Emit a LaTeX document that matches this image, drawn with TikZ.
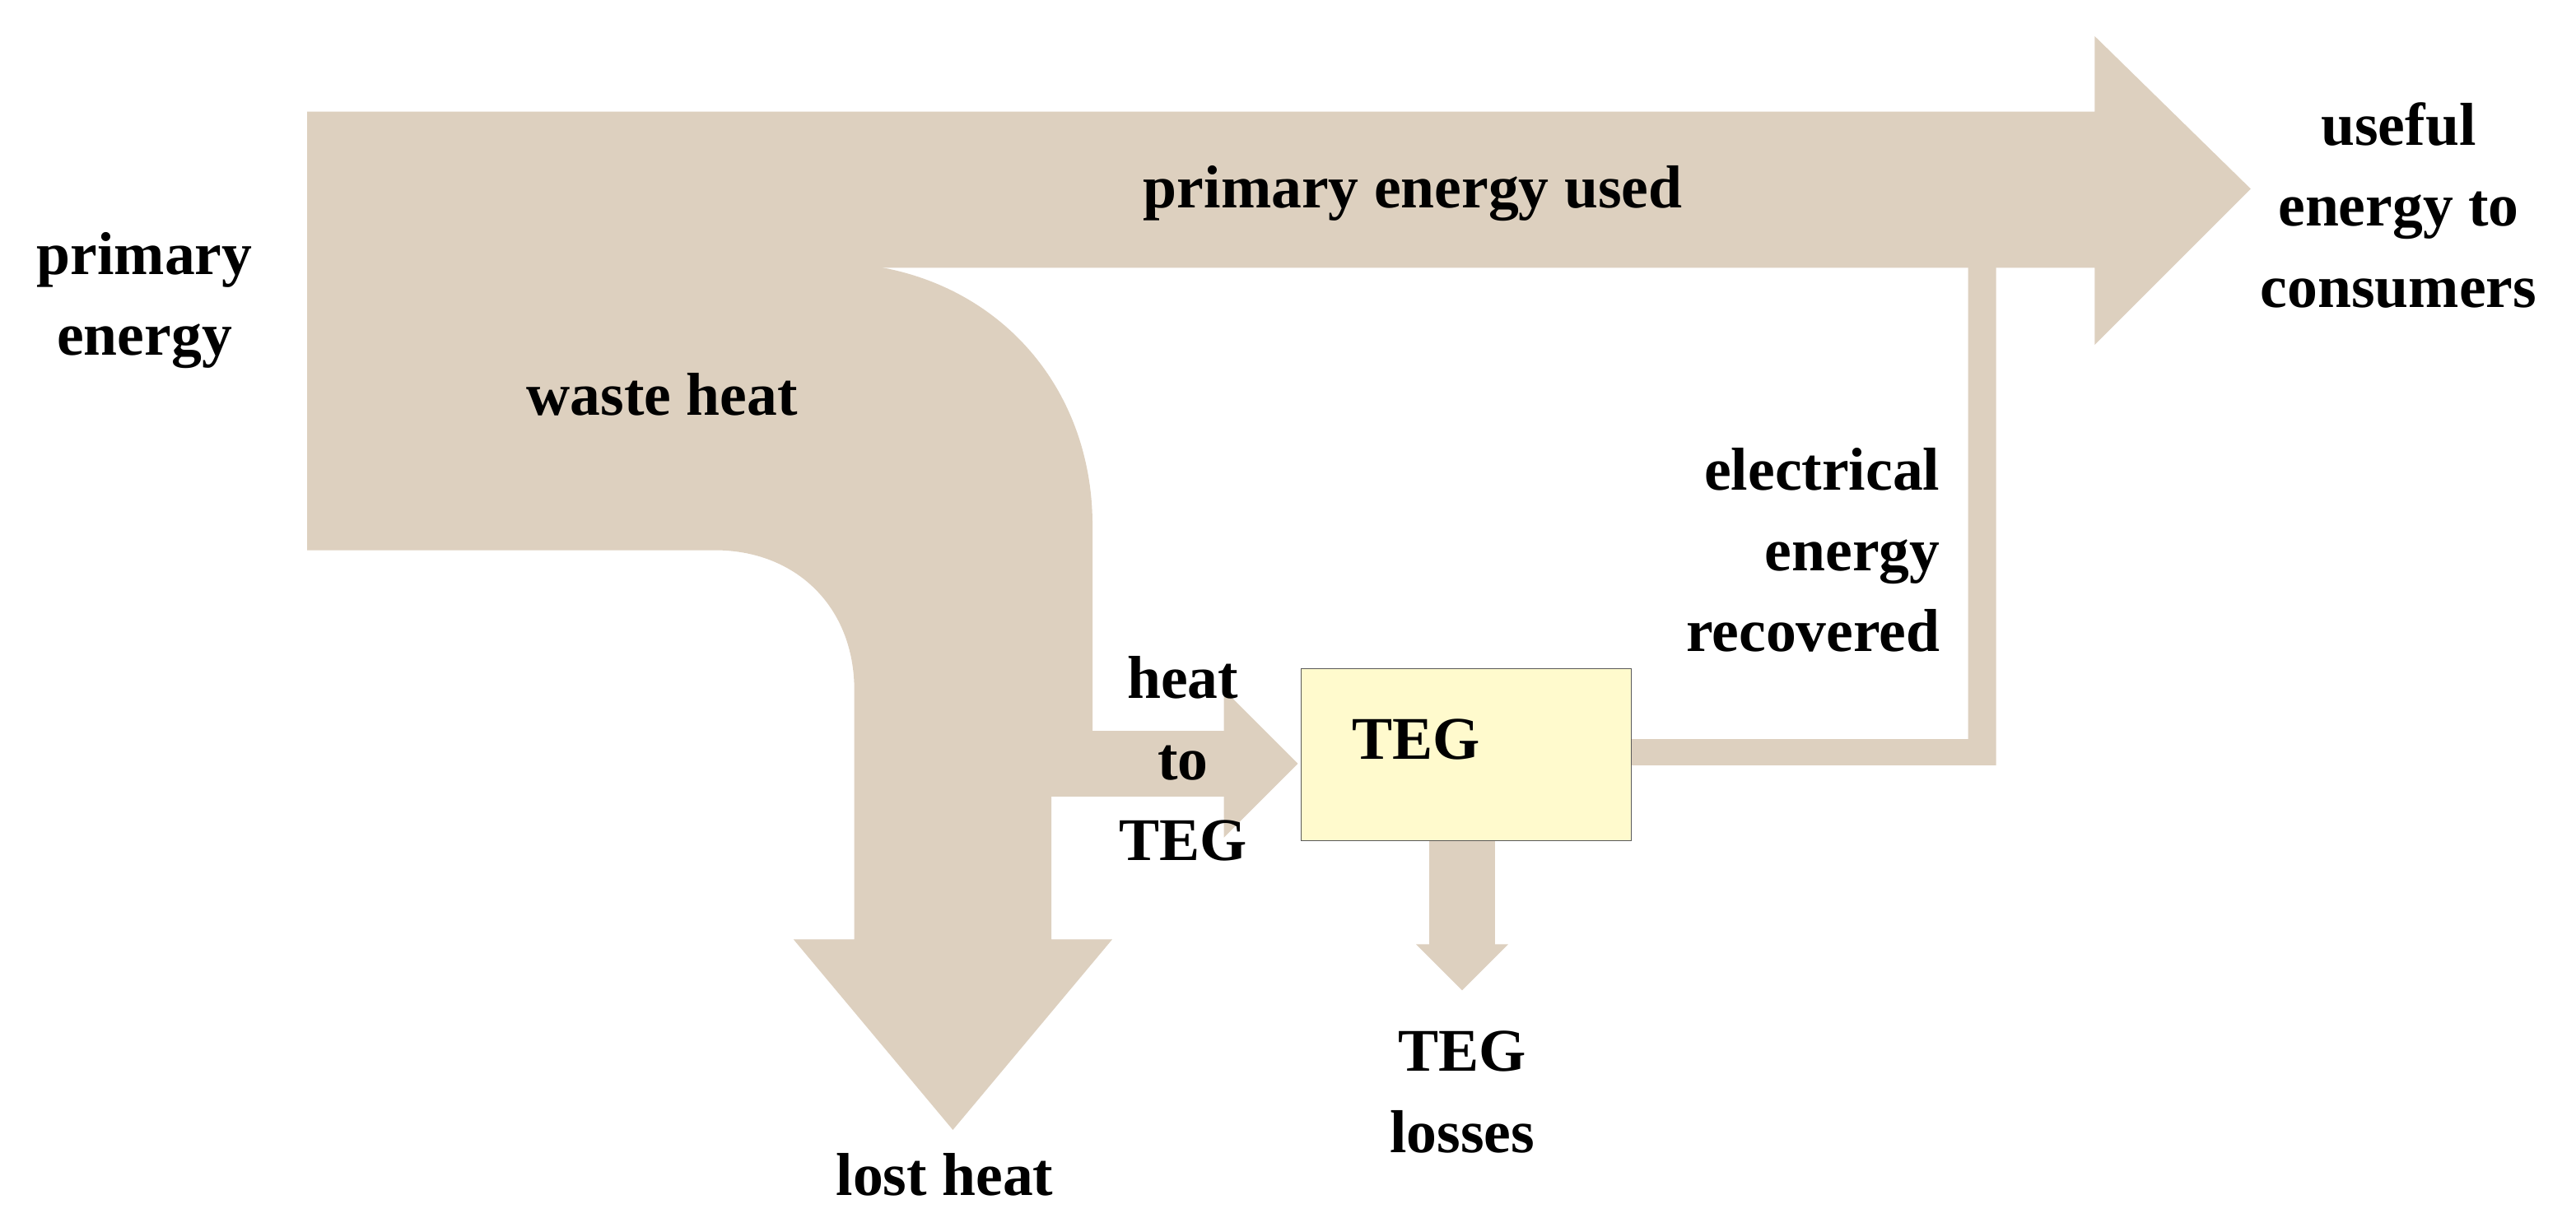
\documentclass[tikz,border=0pt]{standalone}
\usepackage{fontspec}
\setmainfont{Liberation Serif}
\begin{document}
\begin{tikzpicture}[x=0.02cm,y=-0.02cm,
  flow/.style={fill=flowc,draw=none},
  lab/.style={font=\fontsize{21}{28}\selectfont\bfseries,align=center,text=black}]
\definecolor{flowc}{HTML}{DDD0BF}
\definecolor{tegc}{HTML}{FFFACD}
\useasboundingbox (0,0) rectangle (1568,750);
% main arrow
\fill[flow] (187,68) -- (1275,68) -- (1275,22) -- (1370,115) -- (1275,210) -- (1275,163) -- (187,163) -- cycle;
% waste heat
\fill[flow] (187,160) -- (510,160) .. controls (600,163) and (665,230) .. (665,320) -- (665,445) -- (745,445) -- (745,420) -- (790,465) -- (745,510) -- (745,485) -- (640,485) -- (640,572) -- (677,572) -- (580,688) -- (483,572) -- (520,572) -- (520,420) .. controls (520,370) and (485,335) .. (435,335) -- (187,335) -- cycle;
% electrical energy
\fill[flow] (990,450) -- (1198,450) -- (1198,160) -- (1215,160) -- (1215,466) -- (990,466) -- cycle;
% TEG losses
\fill[flow] (870,510) -- (910,510) -- (910,575) -- (918,575) -- (890,603) -- (862,575) -- (870,575) -- cycle;
\node[draw=gray!70!black,fill=tegc,minimum width=4.02cm,minimum height=2.1cm,inner sep=0pt,lab] (teg) at (892.5,459.5) {};
\node[lab] (tegt) at (862,450) {TEG};
\node[lab] (pe) at (88,183) {primary\\energy};
\node[lab] (peu) at (860,118) {primary energy used};
\node[lab] (ue) at (1460,125) {useful\\energy to\\consumers};
\node[lab] (wh) at (403,240) {waste heat};
\node[lab,align=right,anchor=east] (ee) at (1187,335) {electrical\\energy\\recovered};
\node[lab] (ht) at (720,462) {heat\\to\\TEG};
\node[lab] (tl) at (890,665) {TEG\\losses};
\node[lab] (lh) at (575,715) {lost heat};
\end{tikzpicture}
\end{document}
